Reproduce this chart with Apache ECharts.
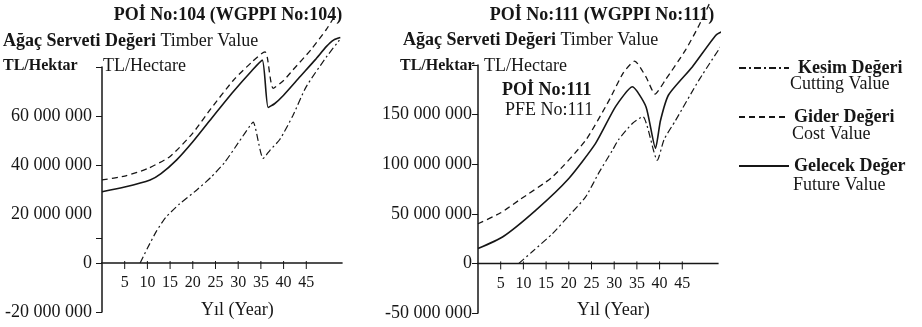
<!DOCTYPE html>
<html>
<head>
<meta charset="utf-8">
<script src="https://cdn.jsdelivr.net/npm/echarts@6/dist/echarts.min.js"></script>
<style>
html, body { margin: 0; background: #fff; }
#chart { width: 922px; height: 327px; }
</style>
</head>
<body>
<div id="chart"></div>
<script>
// values in million TL/ha (year, value)
const leftCutYears = [8.4, 10, 12, 14, 17, 21, 24, 27, 30, 32.6, 33.3, 35.5, 37, 39.2, 42, 45, 49.4, 52.3];
const leftCutValues = [0, 6, 13, 18.5, 24, 30, 35, 41, 49, 56, 57.5, 42.7, 46, 50.5, 60, 72, 84, 91];
const leftCostYears = [0, 5, 10, 15, 20, 24, 29, 33, 35.9, 36.4, 37.7, 40, 42, 46, 49.3, 51];
const leftCostValues = [33.9, 35.5, 38.5, 43.5, 53, 63, 74.7, 82, 86.2, 84, 71.3, 74.5, 78.7, 87, 95, 100];
const leftFutureYears = [0, 5, 10.6, 13, 16.4, 20, 23.8, 28.9, 33, 35.3, 36.6, 38, 40, 43.6, 47, 49.4, 51, 52.5];
const leftFutureValues = [29.1, 31, 33.9, 36.5, 42, 49.5, 58.3, 69.9, 78.5, 82.8, 63.5, 65, 68.5, 76, 83, 88.3, 91, 92];

const rightCutYears = [9, 12, 16.4, 20, 23.7, 26.7, 29.6, 31, 34, 36.3, 39.5, 41, 43.5, 48.7, 54.9];
const rightCutValues = [0, 12, 30, 48, 67, 92, 114, 125, 141, 148, 104, 125, 144, 185, 228.6];
const rightCostYears = [0, 5, 9, 16.4, 23.7, 28.9, 32, 34.5, 37, 39, 41.3, 45.7, 48.7, 51.3];
const rightCostValues = [40, 51, 63.6, 87.2, 124, 164.6, 192, 204, 188, 170.7, 185, 215, 240, 265];
const rightFutureYears = [0, 5.4, 12.7, 20, 25.9, 30.3, 34, 37, 39.1, 40.2, 42, 47.2, 52.4, 54];
const rightFutureValues = [15, 26.6, 53.5, 85.6, 121, 158, 178, 158, 116, 144, 170, 198, 230, 234];

const yearTicks = [5, 10, 15, 20, 25, 30, 35, 40, 45];
const leftYLabels = [-20, 0, 20, 40, 60];
const leftYTicks = [-20, 0, 10, 40, 60, 80];
const rightYLabels = [-50, 0, 50, 100, 150];
const rightYTicks = [-50, 0, 50, 100, 150, 200];

const seriesNames = ['Kesim Değeri', 'Gider Değeri', 'Gelecek Değer'];
const seriesSubNames = ['Cutting Value', 'Cost Value', 'Future Value'];

const FONT = 'Liberation Serif';
const INK = '#161616';
const YEAR_MAX = 53;

const chart = echarts.init(document.getElementById('chart'));

function pairs(xs, ys) {
    return xs.map((x, i) => [x, ys[i]]);
}

// 60 -> "60 000 000"
function fmtMillions(v) {
    if (v === 0) return '0';
    let s = String(Math.abs(v)) + '000000';
    let out = '';
    while (s.length > 3) {
        out = ' ' + s.slice(-3) + out;
        s = s.slice(0, -3);
    }
    return (v < 0 ? '-' : '') + s + out;
}

const lineStyles = [
    {type: [7, 3, 2, 3], width: 1.2, color: INK},
    {type: [6, 4], width: 1.3, color: INK},
    {type: 'solid', width: 1.6, color: INK}
];

// year axis: labels + name shifted up so they hang under the zero line
function makeX(gridIndex, offset) {
    return {
        type: 'value', gridIndex: gridIndex, min: 0, max: YEAR_MAX, interval: 5,
        position: 'bottom', offset: offset,
        axisLine: {show: false, onZero: false},
        axisTick: {show: false},
        axisLabel: {customValues: yearTicks, margin: 12, fontFamily: FONT, fontSize: 16, color: INK},
        splitLine: {show: false},
        name: 'Yıl (Year)', nameLocation: 'middle', nameGap: 38,
        nameTextStyle: {fontFamily: FONT, fontSize: 18, color: INK, padding: [0, 0, 0, 30]}
    };
}

function makeY(gridIndex, min, max, step, labels, ticks, margin) {
    return {
        type: 'value', gridIndex: gridIndex, min: min, max: max, interval: step,
        axisLine: {show: true, lineStyle: {color: INK, width: 1.5}},
        axisTick: {show: true, customValues: ticks, length: 6, lineStyle: {color: INK}},
        axisLabel: {customValues: labels, formatter: fmtMillions, margin: margin,
            fontFamily: FONT, fontSize: 18, color: INK},
        splitLine: {show: false}
    };
}

function makeSeries(idx, name, xs, ys, style) {
    return {
        name: name, type: 'line', xAxisIndex: idx, yAxisIndex: idx,
        data: pairs(xs, ys), symbol: 'none', showSymbol: false, smooth: 0.2, clip: false,
        lineStyle: style, itemStyle: {color: INK}, animation: false
    };
}

function label(x, y, text, extra) {
    return {
        type: 'text', x: x, y: y, silent: true,
        style: Object.assign({
            text: text, fontFamily: FONT, fontSize: 18, fill: INK, verticalAlign: 'middle',
            rich: {b: {fontFamily: FONT, fontSize: 18, fontWeight: 'bold', fill: INK}}
        }, extra || {})
    };
}

const textGraphics = [
    label(228, 15, 'POİ No:104 (WGPPI No:104)', {fontWeight: 'bold', align: 'center'}),
    label(602, 15, 'POİ No:111 (WGPPI No:111)', {fontWeight: 'bold', align: 'center'}),
    label(3, 41, '{b|Ağaç Serveti Değeri} Timber Value'),
    label(403, 40, '{b|Ağaç Serveti Değeri} Timber Value'),
    label(3, 66, 'TL/Hektar', {fontWeight: 'bold', fontSize: 16}),
    label(103, 66, 'TL/Hectare'),
    label(400, 66, 'TL/Hektar', {fontWeight: 'bold', fontSize: 16}),
    label(484, 66, 'TL/Hectare'),
    label(502, 90, 'POİ No:111', {fontWeight: 'bold'}),
    label(505, 110, 'PFE No:111'),
    label(790, 84, seriesSubNames[0]),
    label(792, 134, seriesSubNames[1]),
    label(793, 185, seriesSubNames[2])
];

const option = {
    backgroundColor: '#fff',
    animation: false,
    grid: [
        {left: 102, top: 67, width: 240.6, height: 245, containLabel: false, outerBoundsMode: 'none'},
        {left: 478, top: 65, width: 240.6, height: 248, containLabel: false, outerBoundsMode: 'none'}
    ],
    xAxis: [makeX(0, -49), makeX(1, -49.6)],
    yAxis: [
        makeY(0, -20, 80, 20, leftYLabels, leftYTicks, 10),
        makeY(1, -50, 200, 50, rightYLabels, rightYTicks, 6)
    ],
    legend: {
        orient: 'vertical', left: 733, top: 53, itemWidth: 50, itemHeight: 14, itemGap: 29,
        selectedMode: false,
        itemStyle: {opacity: 0},
        textStyle: {fontFamily: FONT, fontSize: 18, fontWeight: 'bold', color: INK, lineHeight: 20},
        data: [
            {name: seriesNames[0], textStyle: {padding: [0, 0, 0, 4]}},
            {name: seriesNames[1]},
            {name: seriesNames[2]}
        ]
    },
    series: [
        makeSeries(0, seriesNames[0], leftCutYears, leftCutValues, lineStyles[0]),
        makeSeries(0, seriesNames[1], leftCostYears, leftCostValues, lineStyles[1]),
        makeSeries(0, seriesNames[2], leftFutureYears, leftFutureValues, lineStyles[2]),
        makeSeries(1, seriesNames[0], rightCutYears, rightCutValues, lineStyles[0]),
        makeSeries(1, seriesNames[1], rightCostYears, rightCostValues, lineStyles[1]),
        makeSeries(1, seriesNames[2], rightFutureYears, rightFutureValues, lineStyles[2])
    ],
    graphic: textGraphics
};

chart.setOption(option);

// zero line + year ticks, placed through each grid's own scales
function zeroAxis(seriesIndex) {
    const a = chart.convertToPixel({seriesIndex: seriesIndex}, [0, 0]);
    const b = chart.convertToPixel({seriesIndex: seriesIndex}, [YEAR_MAX, 0]);
    const els = [{
        type: 'line', silent: true, z: 50,
        shape: {x1: a[0] - 1, y1: a[1], x2: b[0], y2: b[1]},
        style: {stroke: INK, lineWidth: 1.5}
    }];
    yearTicks.forEach(t => {
        const p = chart.convertToPixel({seriesIndex: seriesIndex}, [t, 0]);
        els.push({
            type: 'line', silent: true, z: 50,
            shape: {x1: p[0], y1: p[1] - 2, x2: p[0], y2: p[1] + 6},
            style: {stroke: INK, lineWidth: 1}
        });
    });
    return els;
}

chart.setOption({graphic: textGraphics.concat(zeroAxis(0), zeroAxis(3))});
</script>
</body>
</html>
